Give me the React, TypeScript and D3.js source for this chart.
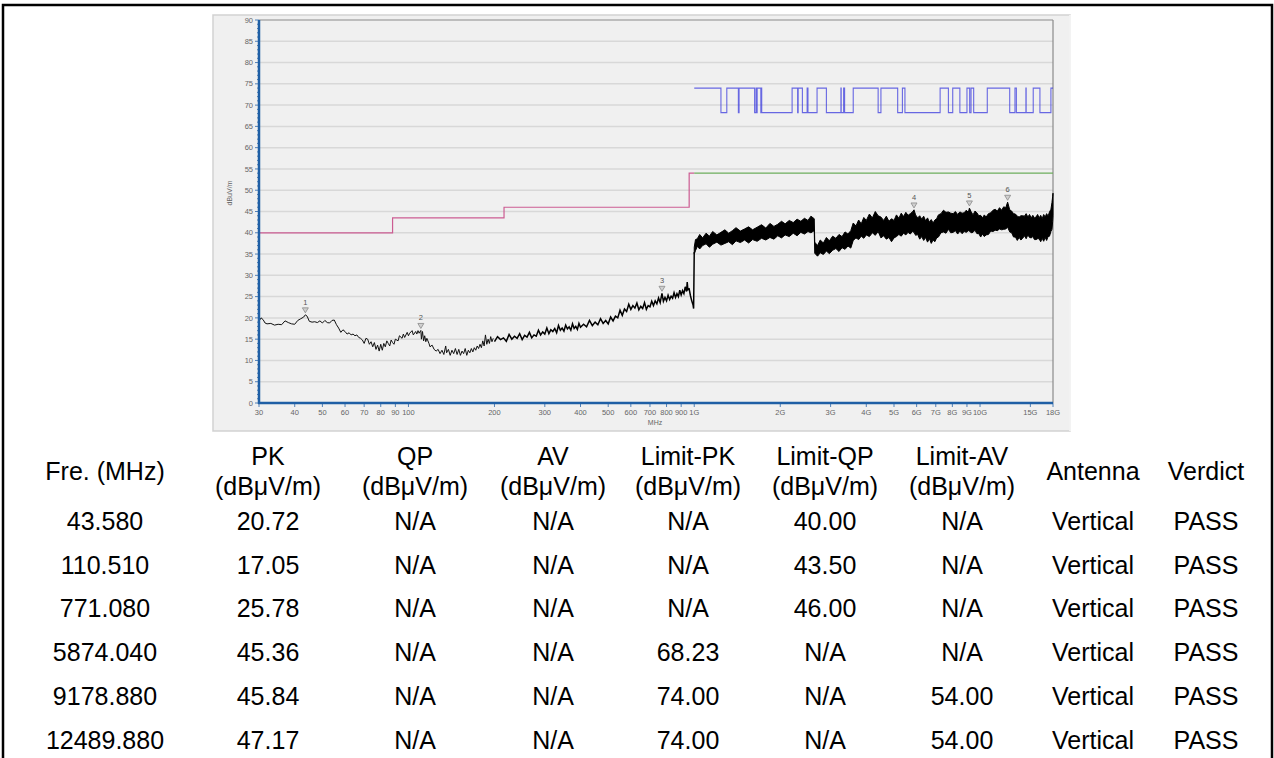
import React from 'react';
import * as d3 from 'd3';

// limit lines (MHz, dBuV/m)
const qpLimit: [number, number][] = [[30, 40], [88, 43.5], [216, 46], [960, 54], [1000, 54]];
const avLimit: [number, number][] = [[1000, 54], [18000, 54]];
const pkHigh = 74;
const pkLow = 68.23;
// bands where the PK limit sits at 74 (MHz)
const restrictedBands: [number, number][] = [
  [1000, 1240], [1300, 1427], [1435, 1626.5], [1645.5, 1646.5], [1660, 1710], [1718.8, 1722.2],
  [2200, 2300], [2310, 2390], [2483.5, 2500], [2690, 2900], [3260, 3267], [3332, 3339],
  [3345.8, 3358], [3600, 4400], [4500, 5150], [5350, 5460], [7250, 7750], [8025, 8500],
  [9000, 9200], [9300, 9500], [10600, 12700], [13250, 13400], [14470, 14500], [15350, 16200],
  [17700, 18000],
];

// measured trace, 30 - 200 MHz
const traceLow: [number, number][] = [
  [30, 19.2], [30.5, 20.0], [31, 19.6], [31.5, 18.8], [32, 18.6], [33, 18.7], [34, 18.3], [35, 18.5],
  [36, 18.4], [37, 19.3], [38, 18.9], [39, 18.6], [40, 18.5], [41, 19.4], [42, 19.8], [43, 20.2],
  [43.58, 20.72], [44.2, 20.4], [45, 19.2], [46, 19.0], [47, 19.1], [48, 18.9], [49, 19.3], [50, 18.8],
  [51, 19.4], [52, 18.9], [53, 18.8], [54, 19.4], [55, 19.5], [56, 18.4], [57, 17.6], [58, 16.6],
  [59, 17.2], [60, 16.8], [61, 16.2], [62, 16.5], [63, 16.0], [64, 16.2], [65, 15.8], [66, 16.0],
  [67, 15.4], [68, 15.2], [69, 14.8], [70, 14.0], [71, 15.2], [72, 15.0], [73, 13.8], [74, 14.4],
  [75, 13.2], [76, 14.2], [77, 12.6], [78, 13.6], [79, 12.2], [80, 13.8], [81, 12.4], [82, 14.0],
  [83, 13.2], [84, 14.6], [85, 14.0], [86, 13.4], [87, 14.8], [88, 14.2], [89, 13.8], [90, 15.0],
  [92, 14.6], [93, 15.8], [95, 15.2], [96, 16.2], [97, 15.4], [99, 16.6], [100, 15.8], [101, 16.4],
  [103, 17.0], [104, 16.0], [106, 16.8], [107, 16.2], [108, 17.0], [109, 16.4], [110.51, 17.05],
  [111, 15.0], [112, 16.8], [113, 14.6], [114, 15.8], [115, 14.4], [116, 15.2], [118, 14.0],
  [119, 13.2], [121, 13.6], [123, 12.6], [125, 12.2], [127, 12.6], [129, 11.6], [131, 12.4],
  [133, 11.4], [135, 13.4], [136, 11.8], [138, 12.6], [140, 11.2], [142, 12.4], [144, 11.6],
  [146, 12.8], [148, 11.4], [150, 12.6], [152, 11.2], [154, 12.2], [156, 11.6], [158, 12.8],
  [160, 11.2], [162, 12.4], [164, 11.8], [166, 12.8], [168, 12.0], [170, 13.0], [172, 12.4],
  [174, 13.4], [176, 12.8], [178, 13.8], [180, 13.0], [182, 14.6], [184, 13.4], [186, 16.0],
  [188, 13.8], [190, 15.0], [192, 14.0], [194, 15.6], [196, 14.4], [198, 15.2],
];

// measured trace, 200 MHz - 1 GHz
const traceMid: [number, number][] = [
  [200, 14.4], [205, 15.6], [210, 14.9], [215, 15.3], [220, 14.5], [225, 16.1], [230, 15.0], [235, 15.7],
  [240, 15.2], [245, 16.3], [250, 14.9], [255, 15.9], [260, 15.5], [265, 16.6], [270, 15.3], [275, 16.0],
  [280, 15.7], [285, 17.1], [290, 16.0], [295, 16.7], [300, 16.2], [305, 17.6], [310, 16.3], [315, 17.2],
  [320, 16.8], [325, 17.5], [330, 16.5], [335, 18.2], [340, 17.1], [345, 17.6], [350, 16.9], [355, 18.3],
  [360, 17.4], [365, 17.9], [370, 17.1], [375, 18.6], [380, 17.5], [385, 18.0], [390, 17.3], [395, 18.7],
  [400, 17.8], [410, 18.5], [420, 17.9], [430, 19.4], [440, 18.2], [450, 19.0], [460, 18.4], [470, 19.8],
  [480, 18.7], [490, 19.4], [500, 18.6], [510, 20.2], [520, 19.3], [530, 20.4], [540, 20.0], [550, 21.8],
  [560, 20.6], [570, 22.1], [580, 21.5], [590, 23.2], [600, 22.0], [610, 22.9], [620, 22.3], [630, 23.5],
  [640, 21.9], [650, 22.7], [660, 22.2], [670, 23.6], [680, 22.0], [690, 22.9], [700, 22.6], [710, 23.9],
  [720, 22.9], [730, 24.0], [740, 23.3], [750, 24.7], [760, 23.6], [771.08, 25.78], [780, 23.9],
  [790, 24.8], [800, 24.0], [810, 25.3], [820, 24.3], [830, 25.1], [840, 24.6], [850, 25.9], [860, 24.8],
  [870, 25.7], [880, 25.0], [890, 26.5], [900, 25.4], [910, 26.4], [920, 25.7], [930, 27.3], [940, 26.2],
  [945, 28.4], [950, 26.6], [960, 26.8], [970, 25.2], [980, 24.0], [990, 23.1], [995, 22.2], [1000, 35.5],
];

// measured trace above 1 GHz as a noise band: [MHz, low, high]
const traceBand: [number, number, number][] = [
  [1000, 35.0, 36.6], [1010, 35.8, 38.4], [1025, 36.8, 38.6], [1045, 36.2, 39.6], [1070, 37.0, 38.8],
  [1100, 37.4, 39.9], [1130, 36.6, 39.2], [1160, 37.3, 40.3], [1200, 37.8, 39.5], [1240, 37.1, 40.1],
  [1280, 37.5, 40.7], [1320, 37.9, 39.9], [1360, 37.2, 40.5], [1400, 38.1, 41.2], [1450, 37.7, 40.4],
  [1500, 38.3, 40.9], [1550, 37.6, 41.4], [1600, 38.4, 40.7], [1660, 38.0, 41.3], [1720, 38.7, 41.9],
  [1780, 38.3, 41.1], [1840, 38.9, 42.2], [1900, 38.5, 41.5], [1960, 39.3, 42.0], [2020, 38.8, 42.7],
  [2080, 39.5, 42.1], [2150, 39.1, 42.9], [2220, 39.9, 42.4], [2290, 39.3, 43.2], [2360, 40.1, 42.7],
  [2430, 39.7, 43.4], [2500, 40.3, 42.9], [2560, 40.0, 43.9], [2630, 40.5, 43.3], [2640, 35.2, 37.8],
  [2700, 34.5, 37.0], [2760, 35.3, 38.3], [2830, 34.9, 37.6], [2900, 35.7, 38.9], [2970, 35.1, 38.1],
  [3050, 35.9, 39.2], [3130, 36.3, 38.7], [3210, 35.6, 39.6], [3290, 36.5, 39.1], [3370, 36.1, 40.2],
  [3450, 36.9, 39.7], [3530, 36.4, 40.5], [3600, 38.2, 42.3], [3680, 38.8, 41.6], [3760, 38.4, 43.0],
  [3840, 39.2, 42.1], [3920, 38.7, 43.6], [4000, 39.5, 42.9], [4100, 39.1, 44.4], [4200, 40.0, 43.5],
  [4300, 39.4, 45.0], [4400, 40.3, 44.0], [4500, 38.8, 43.7], [4600, 39.3, 42.9], [4700, 38.5, 43.9],
  [4800, 38.9, 42.7], [4900, 37.9, 43.3], [5000, 38.8, 42.9], [5100, 39.1, 44.2], [5200, 39.6, 43.4],
  [5300, 39.2, 44.6], [5400, 39.9, 43.8], [5500, 39.5, 44.8], [5600, 40.1, 44.1], [5700, 39.7, 44.5],
  [5800, 40.3, 44.9], [5874, 40.1, 45.4], [5950, 39.4, 44.2], [6050, 39.6, 43.5], [6150, 38.5, 44.0],
  [6250, 39.1, 43.2], [6350, 38.2, 43.9], [6450, 38.9, 42.8], [6550, 37.8, 43.5], [6650, 38.6, 42.5],
  [6750, 37.5, 43.1], [6850, 38.3, 42.3], [6950, 37.9, 43.0], [7050, 38.8, 43.3], [7150, 39.0, 44.2],
  [7300, 40.0, 44.5], [7450, 40.2, 45.3], [7600, 39.9, 44.8], [7750, 40.8, 44.9], [7900, 40.0, 44.6],
  [8050, 40.1, 44.5], [8200, 40.5, 45.0], [8350, 39.7, 44.3], [8500, 40.4, 44.9], [8650, 39.8, 44.6],
  [8800, 40.3, 44.7], [8950, 40.1, 45.3], [9100, 40.5, 44.8], [9179, 40.4, 45.8], [9300, 40.0, 45.0],
  [9450, 40.1, 44.2], [9600, 40.6, 45.1], [9750, 39.8, 44.7], [9900, 39.8, 44.0], [10050, 39.0, 44.1],
  [10200, 39.7, 43.5], [10350, 39.1, 44.2], [10500, 39.5, 43.7], [10700, 39.6, 44.5], [10900, 40.4, 44.7],
  [11100, 40.3, 45.3], [11300, 40.6, 45.5], [11500, 40.5, 45.1], [11700, 40.9, 45.9], [11900, 40.7, 45.3],
  [12100, 40.8, 46.1], [12300, 40.9, 45.9], [12490, 41.3, 47.2], [12700, 40.2, 45.4], [12900, 40.0, 45.1],
  [13100, 39.0, 44.5], [13300, 39.0, 44.4], [13500, 38.2, 43.9], [13700, 38.9, 43.7], [13900, 38.3, 44.0],
  [14100, 38.7, 44.0], [14300, 39.3, 43.9], [14500, 38.6, 44.5], [14700, 39.5, 43.7], [14900, 38.9, 44.3],
  [15100, 38.8, 43.5], [15300, 39.1, 44.1], [15500, 38.4, 43.5], [15700, 38.4, 43.7], [15900, 38.6, 44.3],
  [16100, 38.6, 43.5], [16300, 37.9, 44.1], [16500, 38.7, 43.3], [16700, 38.0, 44.3], [16900, 38.9, 43.7],
  [17100, 38.2, 44.5], [17300, 39.1, 43.9], [17500, 39.2, 44.9], [17700, 40.3, 45.5], [17850, 40.8, 47.1],
  [17950, 42.6, 48.5], [18000, 44.0, 49.3],
];

const xTicks = [30, 40, 50, 60, 70, 80, 90, 100, 200, 300, 400, 500, 600, 700, 800, 900, 1000,
  2000, 3000, 4000, 5000, 6000, 7000, 8000, 9000, 10000, 15000, 18000];
const xTickLabels = ['30', '40', '50', '60', '70', '80', '90', '100', '200', '300', '400', '500', '600',
  '700', '800', '900', '1G', '2G', '3G', '4G', '5G', '6G', '7G', '8G', '9G', '10G', '15G', '18G'];
const yTicks = [0, 5, 10, 15, 20, 25, 30, 35, 40, 45, 50, 55, 60, 65, 70, 75, 80, 85, 90];

// result table
const headers = [['Fre. (MHz)'], ['PK', '(dBμV/m)'], ['QP', '(dBμV/m)'], ['AV', '(dBμV/m)'],
  ['Limit-PK', '(dBμV/m)'], ['Limit-QP', '(dBμV/m)'], ['Limit-AV', '(dBμV/m)'], ['Antenna'], ['Verdict']];
const freqs = ['43.580', '110.510', '771.080', '5874.040', '9178.880', '12489.880'];
const pkVals = ['20.72', '17.05', '25.78', '45.36', '45.84', '47.17'];
const qpVals = ['N/A', 'N/A', 'N/A', 'N/A', 'N/A', 'N/A'];
const avVals = ['N/A', 'N/A', 'N/A', 'N/A', 'N/A', 'N/A'];
const limitPk = ['N/A', 'N/A', 'N/A', '68.23', '74.00', '74.00'];
const limitQp = ['40.00', '43.50', '46.00', 'N/A', 'N/A', 'N/A'];
const limitAv = ['N/A', 'N/A', 'N/A', 'N/A', '54.00', '54.00'];
const antenna = ['Vertical', 'Vertical', 'Vertical', 'Vertical', 'Vertical', 'Vertical'];
const verdict = ['PASS', 'PASS', 'PASS', 'PASS', 'PASS', 'PASS'];

const colX = [105, 268, 415, 553, 688, 825, 962, 1093, 1206];
const rowY = [521, 565, 608, 652, 696, 740];

const W = 1274, H = 758;
const plot = { left: 259, right: 1053, top: 20, bottom: 403 };
const tableFont = 25;

export default function App() {
  const x = d3.scaleLog().domain([30, 18000]).range([plot.left, plot.right]);
  const y = d3.scaleLinear().domain([0, 90]).range([plot.bottom, plot.top]);

  const step = d3.line<[number, number]>().x(d => x(d[0])).y(d => y(d[1])).curve(d3.curveStepAfter);
  const line = d3.line<[number, number]>().x(d => x(d[0])).y(d => y(d[1]));
  const band = d3.area<[number, number, number]>().x(d => x(d[0])).y0(d => y(d[1])).y1(d => y(d[2]));

  // PK limit: high inside restricted bands, low elsewhere
  const pkPoints: [number, number][] = [];
  let f = 1000;
  restrictedBands.forEach(([a, b]) => {
    if (a > f) pkPoints.push([f, pkLow]);
    pkPoints.push([a, pkHigh]);
    f = b;
  });
  if (f < 18000) pkPoints.push([f, pkLow]);
  pkPoints.push([18000, pkPoints[pkPoints.length - 1][1]]);

  const minorY = d3.range(0, 91, 1);
  const rows = freqs.map((fr, i) => [fr, pkVals[i], qpVals[i], avVals[i], limitPk[i], limitQp[i], limitAv[i], antenna[i], verdict[i]]);
  const markers = freqs.map((fr, i) => [+fr, +pkVals[i]]);

  return (
    <svg width={W} height={H} style={{ position: 'absolute', left: 0, top: 0, background: '#fff' }}
      fontFamily="'Liberation Sans', Arial, sans-serif">
      <rect x={3} y={5} width={1269} height={800} fill="none" stroke="#000" strokeWidth={2.5} />

      {/* chart panel */}
      <rect x={213} y={15} width={857} height={416} fill="#f0f0f0" stroke="#d2d2d2" strokeWidth={1.5} />
      <line x1={1070} x2={1070} y1={15} y2={431} stroke="#fafafa" strokeWidth={1.5} />

      {yTicks.filter(t => t > 0 && t < 90).map(t => (
        <line key={'g' + t} x1={plot.left} x2={plot.right} y1={y(t)} y2={y(t)} stroke="#d8d8d8" strokeWidth={1.5} />
      ))}
      <line x1={plot.left} x2={plot.right} y1={plot.top} y2={plot.top} stroke="#8a8a8a" strokeWidth={1.2} />
      <line x1={plot.right} x2={plot.right} y1={plot.top} y2={plot.bottom} stroke="#8a8a8a" strokeWidth={1.2} />

      {/* limits */}
      <path d={step(qpLimit) ?? ''} fill="none" stroke="#cc5c92" strokeWidth={1.2} />
      <path d={line(avLimit) ?? ''} fill="none" stroke="#6cae5c" strokeWidth={1.2} />
      <path d={step(pkPoints) ?? ''} fill="none" stroke="#3a3ade" strokeOpacity={0.75} strokeWidth={1.1} />

      {/* trace */}
      <path d={line(traceLow) ?? ''} fill="none" stroke="#111" strokeWidth={1} />
      <path d={line(traceMid) ?? ''} fill="none" stroke="#000" strokeWidth={1.5} />
      <path d={band(traceBand) ?? ''} fill="#000" stroke="#000" strokeWidth={1} />

      {/* markers */}
      {markers.map(([mf, mv], i) => {
        const mx = x(mf), my = y(mv);
        return (
          <g key={'m' + i}>
            <path d={`M${mx - 3},${my - 7}L${mx + 3},${my - 7}L${mx},${my - 2}Z`} fill="#d0d0d0" stroke="#8a8a8a" strokeWidth={0.8} />
            <text x={mx} y={my - 10} fontSize={7.5} fill="#555" textAnchor="middle">{i + 1}</text>
          </g>
        );
      })}

      {/* axes */}
      {minorY.map(t => (
        <line key={'my' + t} x1={plot.left - (t % 5 === 0 ? 4 : 2)} x2={plot.left} y1={y(t)} y2={y(t)} stroke="#2a64a8" strokeWidth={0.8} />
      ))}
      {xTicks.map(t => (
        <line key={'xt' + t} x1={x(t)} x2={x(t)} y1={plot.bottom} y2={plot.bottom + 4} stroke="#2a64a8" strokeWidth={0.8} />
      ))}
      <line x1={plot.left} x2={plot.left} y1={plot.top} y2={plot.bottom + 1} stroke="#1f5fa5" strokeWidth={2.5} />
      <line x1={plot.left - 1} x2={plot.right} y1={plot.bottom} y2={plot.bottom} stroke="#1f5fa5" strokeWidth={2.5} />

      {yTicks.map(t => (
        <text key={'yl' + t} x={plot.left - 6} y={y(t)} dy="0.35em" fontSize={7.5} fill="#666" textAnchor="end">{t}</text>
      ))}
      {xTicks.map((t, i) => (
        <text key={'xl' + t} x={x(t)} y={plot.bottom + 12} fontSize={7.5} fill="#666" textAnchor="middle">{xTickLabels[i]}</text>
      ))}
      <text x={655} y={425} fontSize={7} fill="#666" textAnchor="middle">MHz</text>
      <text transform="translate(232,193) rotate(-90)" fontSize={7} fill="#666" textAnchor="middle">dBuV/m</text>

      {/* table */}
      {headers.map((h, i) => h.length === 1 ? (
        <text key={'h' + i} x={colX[i]} y={471} dy="0.35em" fontSize={tableFont} textAnchor="middle">{h[0]}</text>
      ) : (
        <g key={'h' + i}>
          <text x={colX[i]} y={456} dy="0.35em" fontSize={tableFont} textAnchor="middle">{h[0]}</text>
          <text x={colX[i]} y={486} dy="0.35em" fontSize={tableFont} textAnchor="middle">{h[1]}</text>
        </g>
      ))}
      {rows.map((r, ri) => r.map((c, ci) => (
        <text key={`c${ri}-${ci}`} x={colX[ci]} y={rowY[ri]} dy="0.35em" fontSize={tableFont} textAnchor="middle">{c}</text>
      )))}
    </svg>
  );
}
